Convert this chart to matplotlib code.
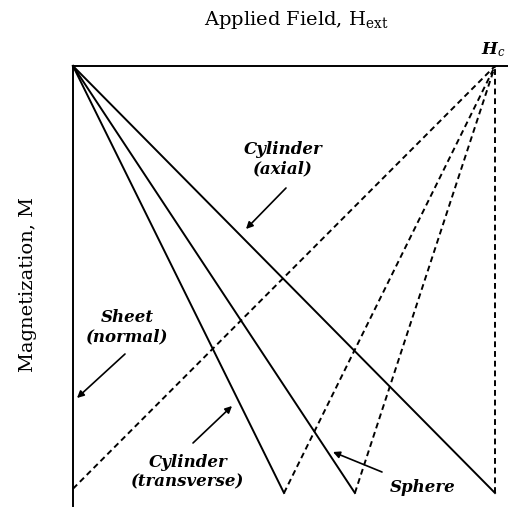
import matplotlib.pyplot as plt

plt.rcParams["mathtext.fontset"] = "dejavuserif"

# M(H) curves for different sample shapes; H scaled so that Hc = 1
shapes = ["Cylinder (transverse)", "Sphere", "Cylinder (axial)"]
h_break = [0.5, 0.668, 1.0]      # field where each curve reaches its minimum
m_min = [-1.0, -1.0, -1.0]
sheet_m_start = -0.99            # sheet (normal) drops vertically, then returns
h_c = 1.0

W, H = 508, 513
fig = plt.figure(figsize=(W / 100, H / 100), dpi=100)
# axes placed so the origin sits at pixel (73, 66) and (Hc, -1) at (495, 493)
ax = fig.add_axes([73 / W, (H - 493) / H, 422 / W, 427 / H])
ax.set_xlim(0, 1)
ax.set_ylim(-1, 0)
ax.axis("off")


def px(x, y):
    return (x - 73) / 422, -(y - 66) / 427


lw = 1.4
dash = (0, (3.0, 2.0))

# frame: top field axis and left magnetization axis
ax.plot([0, 1.03], [0, 0], color="black", lw=lw, clip_on=False)
ax.plot([0, 0], [0, -1.03], color="black", lw=lw, clip_on=False)

# descending branches (solid) and recovery to Hc (dashed)
for hb, mm in zip(h_break, m_min):
    ax.plot([0, hb], [0, mm], color="black", lw=lw, clip_on=False)
    ax.plot([hb, h_c], [mm, 0], color="black", lw=lw, ls=dash, clip_on=False)

ax.plot([0, h_c], [sheet_m_start, 0], color="black", lw=lw, ls=dash, clip_on=False)

lab = dict(family="DejaVu Serif", style="italic", weight="bold", fontsize=12,
           ha="center", va="center", linespacing=1.2)
arrow = dict(arrowstyle="-|>", color="black", lw=1.2, mutation_scale=10,
             shrinkA=0, shrinkB=0)

ax.annotate("", xy=px(246, 229), xytext=px(286, 188), arrowprops=arrow,
            annotation_clip=False)
ax.text(*px(283, 159), "Cylinder\n(axial)", **lab)

ax.annotate("", xy=px(77, 398), xytext=px(125, 354), arrowprops=arrow,
            annotation_clip=False)
ax.text(*px(127, 327), "Sheet\n(normal)", **lab)

ax.annotate("", xy=px(232, 406), xytext=px(193, 443), arrowprops=arrow,
            annotation_clip=False)
ax.text(*px(188, 472), "Cylinder\n(transverse)", **lab)

ax.annotate("", xy=px(333, 452), xytext=px(382, 472), arrowprops=arrow,
            annotation_clip=False)
ax.text(*px(423, 487), "Sphere", **lab)

ax.text(*px(481, 50), r"$\mathbfit{H}_c$", fontsize=12, ha="left", va="center")

fig.text(296 / W, 1 - 20 / H, r"Applied Field, H$_{\rm ext}$",
         family="DejaVu Serif", fontsize=14, ha="center", va="center")
fig.text(28 / W, 1 - 285 / H, "Magnetization, M", family="DejaVu Serif",
         fontsize=14, rotation=90, ha="center", va="center")

fig.savefig("out.png", dpi=100, facecolor="white")
